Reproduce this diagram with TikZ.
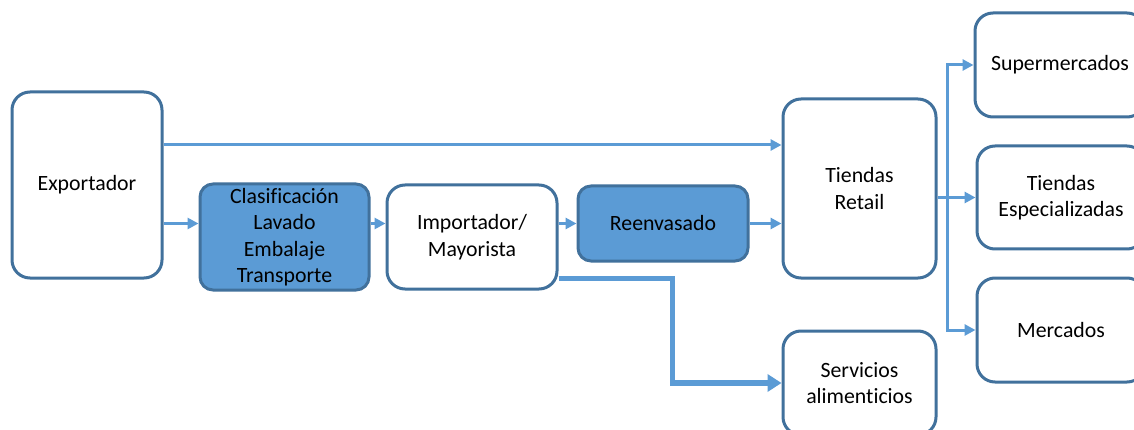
\documentclass[tikz,border=0pt]{standalone}
\usepackage{fontspec}
\setmainfont{Carlito}[Ligatures=NoCommon]
\usetikzlibrary{arrows.meta}
\definecolor{bordc}{HTML}{41719C}
\definecolor{fillc}{HTML}{5B9BD5}
\definecolor{arrc}{HTML}{5B9BD5}
\tikzset{
  box/.style={draw=bordc, line width=3pt, rounded corners=18pt, fill=white,
    align=center, inner sep=2pt, font=\fontsize{21.8}{26.5}\selectfont, text=black},
  fbox/.style={box, fill=fillc, rounded corners=13pt},
  arr/.style={draw=arrc, line width=3pt, -{Triangle[length=11pt,width=11pt]}},
  thickarr/.style={draw=arrc, line width=5.3pt, -{Triangle[length=14pt,width=17pt]}},
}
\begin{document}
\begin{tikzpicture}[x=1pt,y=-1pt]
\useasboundingbox (0,0) rectangle (1134,430);
\clip (0,0) rectangle (1134,430);
\fill[white] (0,0) rectangle (1134,430);
\node[box, minimum width=150pt, minimum height=186pt] (exp) at (87,185) {Exportador};
\node[fbox, minimum width=169pt, minimum height=106pt] (clas) at (284.5,237) {Clasificación\\Lavado\\Embalaje\\Transporte};
\node[box, minimum width=170pt, minimum height=104pt] (imp) at (472,237) {Importador/\\Mayorista};
\node[fbox, minimum width=170pt, minimum height=75pt] (reen) at (663,223.5) {Reenvasado};
\node[box, minimum width=153pt, minimum height=179pt] (ret) at (859.5,188.5) {Tiendas\\Retail};
\node[box, minimum width=153pt, minimum height=104pt] (serv) at (859.5,383) {Servicios\\alimenticios};
\node[box, minimum width=170pt, minimum height=104pt] (sup) at (1060,65) {Supermercados};
\node[box, minimum width=168pt, minimum height=103pt] (esp) at (1061,197.5) {Tiendas\\Especializadas};
\node[box, minimum width=168pt, minimum height=104pt] (mer) at (1061,330) {Mercados};
% connectors
\draw[arr] ([yshift=40pt]exp.east) -- ([yshift=40pt]exp.east -| ret.west);
\draw[arr] (exp.east |- reen.west) -- (clas.west |- reen.west);
\draw[arr] (clas.east |- reen.west) -- (imp.west |- reen.west);
\draw[arr] (imp.east |- reen.west) -- (reen.west);
\draw[arr] (reen.east) -- (reen.east -| ret.west);
\coordinate (bx) at ([xshift=10pt]ret.east |- esp.west);
\draw[arr] (ret.east |- esp.west) -- (esp.west);
\draw[arr] (bx) |- (sup.west);
\draw[arr] (bx) |- (mer.west);
\draw[thickarr] ([yshift=12pt]imp.south east) -- ++(114,0) |- (serv.west);
\end{tikzpicture}
\end{document}
